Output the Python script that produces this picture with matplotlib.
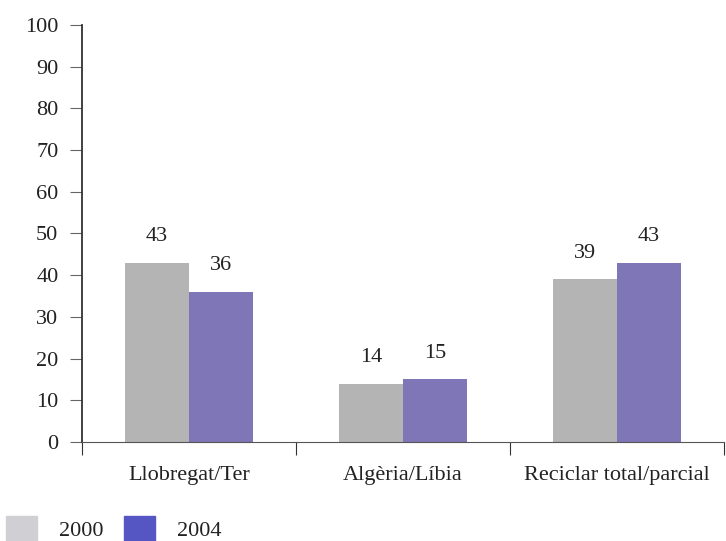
import numpy as np
import matplotlib.pyplot as plt
from matplotlib.patches import Patch

categories = ["Llobregat/Ter", "Algèria/Líbia", "Reciclar total/parcial"]
years = ["2000", "2004"]
values_2000 = [43, 14, 39]
values_2004 = [36, 15, 43]

bar_colors = ["#b4b4b4", "#7e76b6"]
legend_colors = ["#d0d0d4", "#5555c4"]

plt.rcParams['font.family'] = ['Liberation Serif', 'DejaVu Serif']

fig = plt.figure(figsize=(7.26, 5.41), dpi=100)
ax = fig.add_axes([0.113, 0.183, 0.884, 0.771])

x = np.arange(len(categories)) + 0.5
w = 0.3
b1 = ax.bar(x - w / 2, values_2000, w, color=bar_colors[0])
b2 = ax.bar(x + w / 2, values_2004, w, color=bar_colors[1])

for bars, vals in [(b1, values_2000), (b2, values_2004)]:
    for rect, v in zip(bars, vals):
        ax.annotate(str(v), (rect.get_x() + rect.get_width() / 2, rect.get_height()),
                    xytext=(0, 12), textcoords="offset points",
                    ha="center", va="bottom", fontsize=16, color="#222222")

ax.set_xlim(0, 3)
ax.set_ylim(0, 100)
ax.set_yticks(range(0, 101, 10))
ax.set_xticks([0, 1, 2, 3])
ax.set_xticklabels([])
ax.set_xticks(x, minor=True)
ax.set_xticklabels(categories, minor=True)
ax.tick_params(axis="x", which="minor", length=0, pad=17, labelsize=16, labelcolor="#222222")
ax.tick_params(axis="x", which="major", length=9, color="#333333", direction="out")
ax.tick_params(axis="y", length=9, color="#666666", labelsize=16, pad=8, labelcolor="#222222")

for s in ["top", "right"]:
    ax.spines[s].set_visible(False)
ax.spines["left"].set_color("#333333")
ax.spines["bottom"].set_color("#555555")
ax.spines["left"].set_linewidth(1.3)

handles = [Patch(color=c) for c in legend_colors]
fig.legend(handles, years, loc="lower left", bbox_to_anchor=(-0.01, -0.025),
           ncol=2, frameon=False, fontsize=16, handlelength=1.4, handleheight=1.4,
           columnspacing=0.9, handletextpad=1.0, borderaxespad=0.2,
           labelcolor="#222222")

fig.savefig("out.png", dpi=100)
